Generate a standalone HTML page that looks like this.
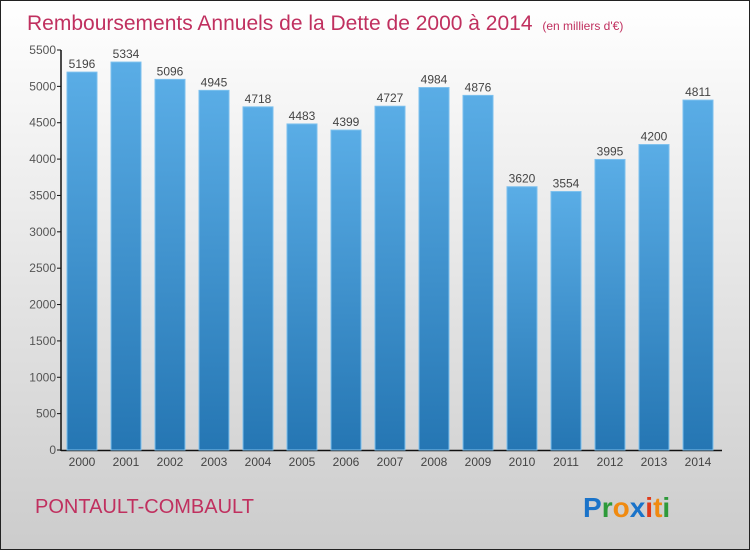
<!DOCTYPE html>
<html><head><meta charset="utf-8"><style>
body{margin:0;width:750px;height:550px;overflow:hidden}
svg{display:block;font-family:"Liberation Sans",sans-serif}
</style></head><body>
<svg width="750" height="550">
<defs>
<linearGradient id="bg" x1="0" y1="0" x2="0" y2="1"><stop offset="0" stop-color="#ffffff"/><stop offset="1" stop-color="#cccccc"/></linearGradient>
<linearGradient id="bar" x1="0" y1="0" x2="0" y2="1"><stop offset="0" stop-color="#5aade6"/><stop offset="1" stop-color="#2576b3"/></linearGradient>
</defs>
<rect x="0.5" y="0.5" width="749" height="549" fill="url(#bg)" stroke="#222"/>
<text x="27" y="30" font-size="21" fill="#c0305f">Remboursements Annuels de la Dette de 2000 à 2014 <tspan font-size="12" dx="4">(en milliers d'€)</tspan></text>
<g id="axes"></g>
<g id="bars"></g>
<text x="35" y="513" font-size="20" fill="#c0305f">PONTAULT-COMBAULT</text>
<g font-size="28" font-weight="bold">
<text x="583" y="517"><tspan fill="#1a73c9">P</tspan><tspan fill="#2e9a3a">r</tspan><tspan fill="#f08a10">o</tspan><tspan fill="#1a73c9">x</tspan><tspan fill="#e03a1a">i</tspan><tspan fill="#f08a10">t</tspan><tspan fill="#2e9a3a">i</tspan></text>
</g>
</svg>
<script>
const years=["2000","2001","2002","2003","2004","2005","2006","2007","2008","2009","2010","2011","2012","2013","2014"];
const values=[5196,5334,5096,4945,4718,4483,4399,4727,4984,4876,3620,3554,3995,4200,4811];
const ticks=[0,500,1000,1500,2000,2500,3000,3500,4000,4500,5000,5500];
const NS="http://www.w3.org/2000/svg";
const y=v=>450-v*400/5500, x=i=>67+44*i;
function mk(t,a,p){const e=document.createElementNS(NS,t);for(const k in a)e.setAttribute(k,a[k]);p.appendChild(e);return e;}
const ax=document.getElementById('axes'), bs=document.getElementById('bars');
let l=mk('line',{x1:61,y1:50,x2:61,y2:451,stroke:'#111','stroke-width':1.5},ax);


l=mk('line',{x1:61,y1:450.5,x2:722,y2:450.5,stroke:'#111','stroke-width':1.5},ax);


ticks.forEach(t=>{
 mk('line',{x1:57,x2:61,y1:y(t),y2:y(t),stroke:'#111'},ax);
 const tx=mk('text',{x:56,y:y(t)+4,'font-size':12,'text-anchor':'end',fill:'#555'},ax);
 tx.textContent=t;
 
 
});
values.forEach((v,i)=>{
 const r=mk('rect',{x:x(i),y:y(v),width:30,height:450-y(v),fill:'url(#bar)',stroke:'#7cc0ee','stroke-width':1},bs);
 
 
 const t=mk('text',{x:x(i)+15,y:y(v)-4,'font-size':12,'text-anchor':'middle',fill:'#444'},bs);
 t.textContent=v;
 
 
 const xl=mk('text',{x:x(i)+15,y:466,'font-size':12,'text-anchor':'middle',fill:'#444'},bs);
 xl.textContent=years[i];
 
 
});
</script>
</body></html>
